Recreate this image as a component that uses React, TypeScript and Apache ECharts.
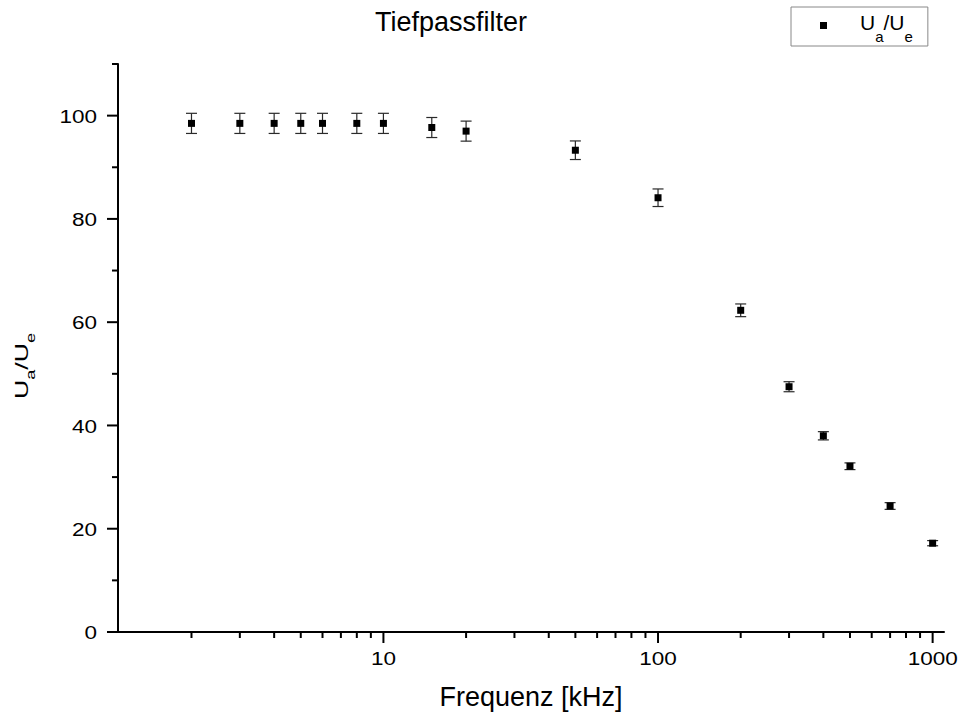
import React, { useEffect, useRef } from "react";
import * as echarts from "echarts";

const freq = [2, 3, 4, 5, 6, 8, 10, 15, 20, 50, 100, 200, 300, 400, 500, 700, 1000];
const ratio = [98.5, 98.5, 98.5, 98.5, 98.5, 98.5, 98.5, 97.7, 97.0, 93.3, 84.1, 62.3, 47.5, 38.0, 32.1, 24.4, 17.2];
const ratioErr = [1.95, 1.95, 1.95, 1.95, 1.95, 1.95, 1.95, 1.94, 1.94, 1.8, 1.7, 1.23, 0.97, 0.8, 0.65, 0.65, 0.5];

const xMajorTicks = [10, 100, 1000];
const xTickLabels = ["10", "100", "1000"];
const xMinorTicks = [2, 3, 4, 5, 6, 7, 8, 9, 20, 30, 40, 50, 60, 70, 80, 90, 200, 300, 400, 500, 600, 700, 800, 900];
const yMajorTicks = [0, 20, 40, 60, 80, 100];
const yTickLabels = ["0", "20", "40", "60", "80", "100"];
const yMinorTicks = [10, 30, 50, 70, 90, 110];

const X_MIN = 1.08;
const X_MAX = 1100;
const Y_MIN = 0;
const Y_MAX = 110;

const FONT = '"Liberation Sans", Arial, sans-serif';
const STRETCH = 1.25;

export default function App() {
  const ref = useRef<HTMLDivElement>(null);
  useEffect(() => {
    if (!ref.current) return;
    const chart = echarts.init(ref.current, null, { renderer: "svg" });

    // tick data: [value, isMajor, axis(0=x,1=y), labelIndex]
    const tickData: number[][] = [];
    xMajorTicks.forEach((v, i) => tickData.push([v, 1, 0, i]));
    xMinorTicks.forEach((v) => tickData.push([v, 0, 0, -1]));
    yMajorTicks.forEach((v, i) => tickData.push([v, 1, 1, i]));
    yMinorTicks.forEach((v) => tickData.push([v, 0, 1, -1]));

    const errData = freq.map((f, i) => [f, ratio[i], ratioErr[i]]);
    const pts = freq.map((f, i) => [f, ratio[i]]);

    const labelStyle = (text: string, align: string, vAlign: string) => ({
      text,
      align,
      verticalAlign: vAlign,
      fontFamily: FONT,
      fontSize: 18,
      fill: "#000",
    });

    const option: any = {
      animation: false,
      backgroundColor: "#ffffff",
      title: {
        text: "Tiefpassfilter",
        left: 451,
        top: 8,
        padding: 0,
        textAlign: "center",
        textStyle: { fontFamily: FONT, fontSize: 27, fontWeight: "normal", color: "#000" },
      },
      legend: {
        data: ["Ua/Ue"],
        left: 791,
        top: 7,
        padding: [0, 15, 2, 29],
        borderColor: "#888",
        borderWidth: 1,
        borderRadius: 0,
        icon: "rect",
        itemWidth: 7,
        itemHeight: 7,
        formatter: () => "{u|U}{s|a}{u|/U}{s|e}",
        textStyle: {
          padding: [0, 0, 0, 28],
          fontFamily: FONT,
          color: "#000",
          rich: {
            u: { fontSize: 21, fontFamily: FONT, color: "#000", lineHeight: 24, padding: [0, 0, 6, 0] },
            s: { fontSize: 15, fontFamily: FONT, color: "#000", lineHeight: 15, padding: [22, 0, 0, 0] },
          },
        },
      },
      grid: { left: 118, right: 18, top: 64, bottom: 88, containLabel: false },
      xAxis: {
        type: "log",
        logBase: 10,
        min: X_MIN,
        max: X_MAX,
        name: "Frequenz [kHz]",
        nameLocation: "middle",
        nameGap: 51,
        nameTextStyle: { fontFamily: FONT, fontSize: 27, color: "#000" },
        axisLine: { show: true, onZero: false, lineStyle: { color: "#000", width: 2 } },
        axisTick: { show: false },
        axisLabel: { show: false },
        splitLine: { show: false },
        minorTick: { show: false },
      },
      yAxis: {
        type: "value",
        min: Y_MIN,
        max: Y_MAX,
        interval: 10,
        axisLine: { show: true, lineStyle: { color: "#000", width: 2 } },
        axisTick: { show: false },
        axisLabel: { show: false },
        splitLine: { show: false },
      },
      graphic: [
        {
          type: "text",
          x: 21,
          y: 366,
          rotation: Math.PI / 2,
          scaleX: 1.4,
          style: {
            text: "{u|U}{s|a}{u|/U}{s|e}",
            align: "center",
            verticalAlign: "middle",
            fontFamily: FONT,
            fill: "#000",
            rich: {
              u: { fontSize: 19, fontFamily: FONT, fill: "#000", color: "#000", lineHeight: 22 },
              s: { fontSize: 13, fontFamily: FONT, fill: "#000", color: "#000", padding: [18, 0, 0, 0], lineHeight: 13 },
            },
          },
        },
      ],
      series: [
        {
          name: "ticks",
          type: "custom",
          silent: true,
          clip: false,
          z: 5,
          data: tickData,
          renderItem: (params: any, api: any) => {
            const v = api.value(0);
            const major = api.value(1) === 1;
            const axis = api.value(2);
            const li = api.value(3);
            const len = major ? 11 : 6;
            const children: any[] = [];
            if (axis === 0) {
              const p = api.coord([v, Y_MIN]);
              children.push({
                type: "line",
                shape: { x1: p[0], y1: p[1], x2: p[0], y2: p[1] + len },
                style: { stroke: "#000", lineWidth: 2 },
              });
              if (major && li >= 0) {
                children.push({
                  type: "text",
                  x: p[0],
                  y: p[1] + 27,
                  scaleX: STRETCH,
                  style: labelStyle(xTickLabels[li], "center", "middle"),
                });
              }
            } else {
              const p = api.coord([X_MIN, v]);
              children.push({
                type: "line",
                shape: { x1: p[0], y1: p[1], x2: p[0] - len, y2: p[1] },
                style: { stroke: "#000", lineWidth: 2 },
              });
              if (major && li >= 0) {
                children.push({
                  type: "text",
                  x: p[0] - 21,
                  y: p[1] + 1,
                  scaleX: STRETCH,
                  style: labelStyle(yTickLabels[li], "right", "middle"),
                });
              }
            }
            return { type: "group", children };
          },
        },
        {
          name: "err",
          type: "custom",
          silent: true,
          z: 3,
          data: errData,
          renderItem: (params: any, api: any) => {
            const x = api.value(0);
            const y = api.value(1);
            const e = api.value(2);
            const top = api.coord([x, y + e]);
            const bot = api.coord([x, y - e]);
            const hw = 5.5;
            const st = { stroke: "#2a2a2a", lineWidth: 1.2 };
            return {
              type: "group",
              children: [
                { type: "line", shape: { x1: top[0], y1: top[1], x2: bot[0], y2: bot[1] }, style: st },
                { type: "line", shape: { x1: top[0] - hw, y1: top[1], x2: top[0] + hw, y2: top[1] }, style: st },
                { type: "line", shape: { x1: bot[0] - hw, y1: bot[1], x2: bot[0] + hw, y2: bot[1] }, style: st },
              ],
            };
          },
        },
        {
          name: "Ua/Ue",
          type: "scatter",
          symbol: "rect",
          symbolSize: 7,
          z: 4,
          itemStyle: { color: "#000", opacity: 1 },
          data: pts,
        },
      ],
    };
    chart.setOption(option);
    return () => chart.dispose();
  }, []);
  return (
    <div
      ref={ref}
      style={{ position: "fixed", left: 0, top: 0, width: 962, height: 720, background: "#fff" }}
    />
  );
}
